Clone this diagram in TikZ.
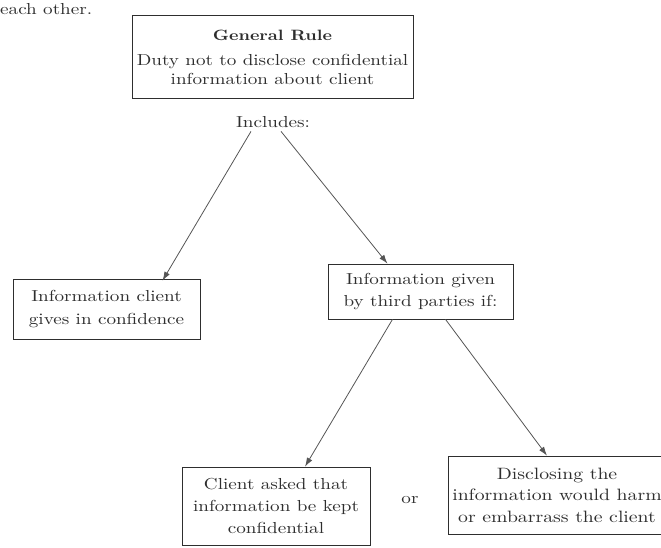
\documentclass[tikz,border=0pt]{standalone}
\usepackage{fontspec}
\setmainfont{lmroman10}[Extension=.otf, UprightFont=*-regular, BoldFont=*-bold, ItalicFont=*-italic, FakeStretch=1.2]
\usetikzlibrary{arrows.meta}
\definecolor{ink}{HTML}{2E2E2E}
\definecolor{linec}{HTML}{555555}
\tikzset{
  box/.style={draw=ink, line width=0.7bp, align=center, text=ink, inner sep=2bp},
  arr/.style={draw=linec, line width=0.8bp, -{Latex[length=9bp,width=6bp]}},
  lbl/.style={text=ink, inner sep=0pt}
}
\begin{document}
\begin{tikzpicture}[x=1bp,y=-1bp]
\useasboundingbox (0,0) rectangle (661,548);
\node[lbl, anchor=base west, font=\fontsize{16}{18}\selectfont] (eo) at (0,15) {each other.};
\node[box, minimum width=281bp, minimum height=83bp, font=\fontsize{16}{19}\selectfont] (gr) at (272.5,57)
  {{\fontsize{15}{16}\selectfont\bfseries General Rule}\\[6bp]Duty not to disclose confidential\\information about client};
\node[lbl, anchor=base, font=\fontsize{16}{18}\selectfont] (inc) at (273,128) {Includes:};
\node[box, minimum width=187bp, minimum height=60bp, font=\fontsize{16}{23}\selectfont] (lb) at (106.5,309)
  {Information client\\gives in confidence};
\node[box, minimum width=185bp, minimum height=55bp, font=\fontsize{16}{23}\selectfont] (mb) at (420.5,291.5)
  {Information given\\by third parties if:};
\node[box, minimum width=188bp, minimum height=78bp, font=\fontsize{16}{22}\selectfont] (bl) at (276,506)
  {Client asked that\\information be kept\\confidential};
\node[lbl, anchor=base, font=\fontsize{16}{18}\selectfont] (or) at (410,503) {or};
\node[box, minimum width=218bp, minimum height=78bp, font=\fontsize{16.5}{21.5}\selectfont] (br) at (557,495)
  {Disclosing the\\information would harm\\or embarrass the client};
\draw[arr] ([xshift=-22bp,yshift=-3bp]inc.south) -- ([xshift=56bp,yshift=-2bp]lb.north);
\draw[arr] ([xshift=8bp,yshift=-3bp]inc.south) -- ([xshift=-33bp]mb.north);
\draw[arr] ([xshift=-28bp]mb.south) -- ([xshift=29bp]bl.north);
\draw[arr] ([xshift=25bp]mb.south) -- ([xshift=-10bp]br.north);
\end{tikzpicture}
\end{document}
